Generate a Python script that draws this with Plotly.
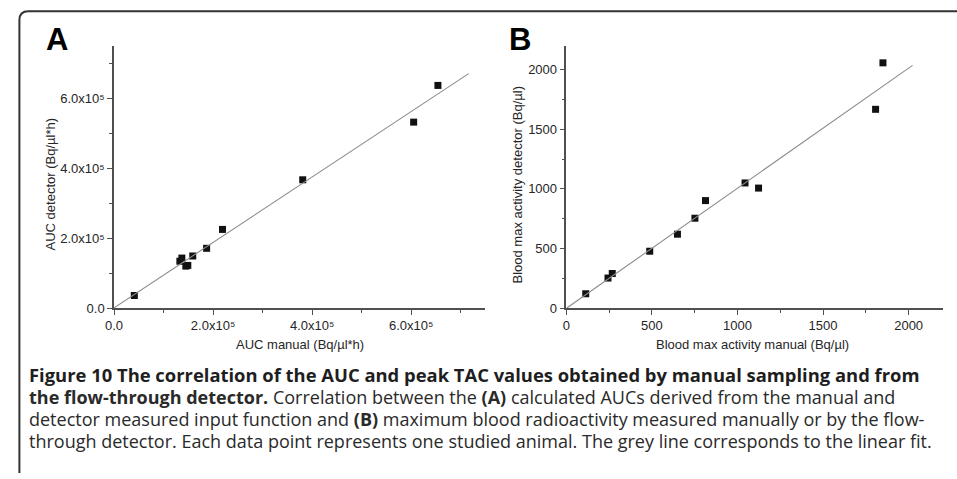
import numpy as np
import plotly.graph_objects as go

# ---------------- data ----------------
auc_manual = [4.1e4, 1.33e5, 1.37e5, 1.45e5, 1.49e5, 1.59e5, 1.87e5, 2.19e5, 3.81e5, 6.05e5, 6.54e5]
auc_detector = [3.6e4, 1.34e5, 1.43e5, 1.20e5, 1.22e5, 1.49e5, 1.71e5, 2.25e5, 3.67e5, 5.32e5, 6.37e5]
auc_fit_x = [0, 7.16e5]

blood_manual = [113, 243, 268, 487, 649, 751, 813, 1044, 1123, 1807, 1850]
blood_detector = [120, 252, 290, 477, 620, 754, 902, 1050, 1007, 1668, 2058]
blood_fit_x = [0, 2023]

auc_tickvals = [0, 2e5, 4e5, 6e5]
auc_ticktext = ["0.0", "2.0x10⁵", "4.0x10⁵", "6.0x10⁵"]
auc_minor = [1e5, 3e5, 5e5, 7e5]
blood_tickvals = [0, 500, 1000, 1500, 2000]
blood_ticktext = ["0", "500", "1000", "1500", "2000"]
blood_minor = [250, 750, 1250, 1750]

caption_title = "Figure 10 The correlation of the AUC and peak TAC values obtained by manual sampling and from"
caption_lines = [
    "<b>the flow-through detector.</b> Correlation between the <b>(A)</b> calculated AUCs derived from the manual and",
    "detector measured input function and <b>(B)</b> maximum blood radioactivity measured manually or by the flow-",
    "through detector. Each data point represents one studied animal. The grey line corresponds to the linear fit.",
]

W, H = 957, 479


def px_x(p):
    return p / W


def px_y(p):
    return 1 - p / H


fig = go.Figure()

# linear fits
ka, ba = np.polyfit(auc_manual, auc_detector, 1)
kb, bb = np.polyfit(blood_manual, blood_detector, 1)

mk = dict(symbol="square", size=7, color="#111111", line=dict(width=0))
fit_line = dict(color="#8c8c8c", width=1.1)
fig.add_trace(go.Scatter(x=auc_manual, y=auc_detector, mode="markers", marker=mk,
                         xaxis="x", yaxis="y", showlegend=False, cliponaxis=False))
fig.add_trace(go.Scatter(x=auc_fit_x, y=[ka * v + ba for v in auc_fit_x], mode="lines",
                         line=fit_line, xaxis="x", yaxis="y", showlegend=False))
fig.add_trace(go.Scatter(x=blood_manual, y=blood_detector, mode="markers", marker=mk,
                         xaxis="x2", yaxis="y2", showlegend=False, cliponaxis=False))
fig.add_trace(go.Scatter(x=blood_fit_x, y=[kb * v + bb for v in blood_fit_x], mode="lines",
                         line=fit_line, xaxis="x2", yaxis="y2", showlegend=False))

axis_font = dict(family="Liberation Sans, Arial, sans-serif", size=13, color="#262626")
common = dict(showgrid=False, zeroline=False, showline=True, linecolor="#505050", linewidth=1.5,
              ticks="outside", ticklen=5, tickwidth=1.2, tickcolor="#505050", tickfont=axis_font,
              mirror=False)


def minor(vals):
    return dict(ticks="outside", ticklen=3, tickwidth=1, tickvals=vals, tickcolor="#505050")


ydom = [px_y(313.3), px_y(46.7)]
fig.update_layout(
    width=W, height=H, margin=dict(l=0, r=0, t=0, b=0),
    paper_bgcolor="white", plot_bgcolor="white",
    xaxis=dict(domain=[px_x(106), px_x(481)], range=[0, 7.5e5], tickvals=auc_tickvals,
               ticktext=auc_ticktext, anchor="y", minor=minor(auc_minor), **common),
    yaxis=dict(domain=ydom, range=[0, 7.5e5], tickvals=auc_tickvals, ticktext=auc_ticktext,
               anchor="x", minor=minor(auc_minor), **common),
    xaxis2=dict(domain=[px_x(562.7), px_x(942.7)], range=[0, 2200], tickvals=blood_tickvals,
                ticktext=blood_ticktext, anchor="y2", minor=minor(blood_minor), **common),
    yaxis2=dict(domain=ydom, range=[0, 2200], tickvals=blood_tickvals, ticktext=blood_ticktext,
                anchor="x2", minor=minor(blood_minor), **common),
)

ann = []
title_font = dict(family="Liberation Sans, Arial, sans-serif", size=13, color="#262626")
ann.append(dict(text="AUC manual (Bq/µl*h)", x=px_x(293.5), y=px_y(350), xref="paper", yref="paper",
                showarrow=False, font=title_font, xanchor="center", yanchor="middle"))
ann.append(dict(text="AUC detector (Bq/µl*h)", x=px_x(42), y=px_y(188), xref="paper", yref="paper",
                showarrow=False, font=title_font, textangle=-90, xanchor="center", yanchor="middle"))
ann.append(dict(text="Blood max activity manual (Bq/µl)", x=px_x(751), y=px_y(350), xref="paper", yref="paper",
                showarrow=False, font=title_font, xanchor="center", yanchor="middle"))
ann.append(dict(text="Blood max activity detector (Bq/µl)", x=px_x(513), y=px_y(187.5), xref="paper", yref="paper",
                showarrow=False, font=title_font, textangle=-90, xanchor="center", yanchor="middle"))
lab_font = dict(family="Liberation Sans, Arial, sans-serif", size=31, color="#000000", weight="bold")
ann.append(dict(text="A", x=px_x(35), y=px_y(40), xref="paper", yref="paper", showarrow=False,
                font=lab_font, xanchor="left", yanchor="middle"))
ann.append(dict(text="B", x=px_x(503), y=px_y(40), xref="paper", yref="paper", showarrow=False,
                font=lab_font, xanchor="left", yanchor="middle"))

ann.append(dict(text=caption_title, x=px_x(18), y=px_y(381), xref="paper", yref="paper", showarrow=False,
                font=dict(family="Open Sans, sans-serif", size=18.4, color="#1e1e1e", weight="bold"),
                xanchor="left", yanchor="middle", align="left"))
cap_font = dict(family="Open Sans, sans-serif", size=18, color="#2a2a2a")
cap_y = [403.5, 426, 448]
for t, yy in zip(caption_lines, cap_y):
    ann.append(dict(text=t, x=px_x(18), y=px_y(yy), xref="paper", yref="paper", showarrow=False,
                    font=cap_font, xanchor="left", yanchor="middle", align="left"))
fig.update_layout(annotations=ann)

# rounded border (top-left corner), running off the right and bottom edges
x0, y0, r = 10.5, 11.5, 9
path = (f"M {px_x(x0)},{px_y(H + 2)} L {px_x(x0)},{px_y(y0 + r)} "
        f"Q {px_x(x0)},{px_y(y0)} {px_x(x0 + r)},{px_y(y0)} L {px_x(W + 2)},{px_y(y0)}")
fig.add_shape(type="path", path=path, xref="paper", yref="paper",
              line=dict(color="#333333", width=2))

fig.write_html("out.html")
